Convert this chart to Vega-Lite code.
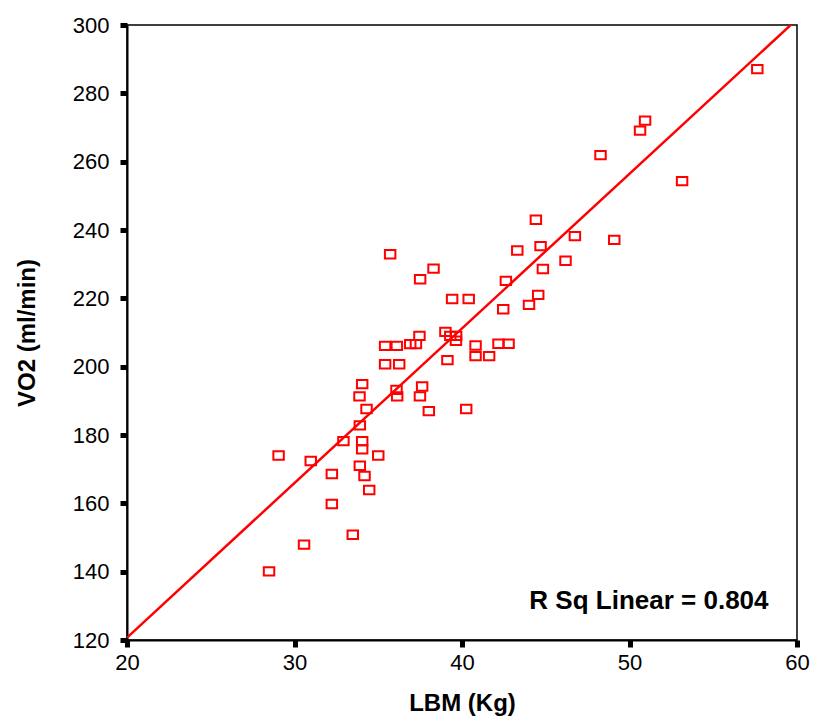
{
  "$schema": "https://vega.github.io/schema/vega-lite/v6.json",
  "width": 670,
  "height": 615,
  "autosize": "none",
  "padding": {"left": 127, "top": 25, "right": 17, "bottom": 80},
  "background": "white",
  "config": {
    "view": {"stroke": "#000000", "strokeWidth": 1.5},
    "font": "Liberation Sans",
    "axis": {
      "domainColor": "#000000",
      "domainWidth": 2,
      "tickColor": "#000000",
      "tickWidth": 5,
      "tickSize": 7,
      "labelFont": "Liberation Sans",
      "labelFontSize": 22,
      "labelColor": "#000000",
      "labelFlush": false,
      "labelOverlap": false,
      "titleFont": "Liberation Sans",
      "titleFontSize": 24,
      "titleFontWeight": "bold",
      "titleColor": "#000000",
      "grid": false
    }
  },
  "datasets": {
    "points": [
      {"LBM": 57.63, "VO2": 287.1},
      {"LBM": 50.93, "VO2": 272.0},
      {"LBM": 50.63, "VO2": 269.1},
      {"LBM": 48.27, "VO2": 261.9},
      {"LBM": 53.14, "VO2": 254.3},
      {"LBM": 44.41, "VO2": 243.0},
      {"LBM": 46.74, "VO2": 238.2},
      {"LBM": 49.09, "VO2": 237.1},
      {"LBM": 43.3, "VO2": 234.0},
      {"LBM": 44.69, "VO2": 235.3},
      {"LBM": 44.83, "VO2": 228.6},
      {"LBM": 46.18, "VO2": 231.0},
      {"LBM": 42.62, "VO2": 225.1},
      {"LBM": 44.55, "VO2": 221.0},
      {"LBM": 44.0, "VO2": 218.1},
      {"LBM": 42.46, "VO2": 216.8},
      {"LBM": 39.41, "VO2": 219.8},
      {"LBM": 40.4, "VO2": 219.8},
      {"LBM": 35.71, "VO2": 232.9},
      {"LBM": 38.3, "VO2": 228.7},
      {"LBM": 37.5, "VO2": 225.6},
      {"LBM": 37.46, "VO2": 209.0},
      {"LBM": 39.01, "VO2": 210.2},
      {"LBM": 39.3, "VO2": 209.0},
      {"LBM": 39.65, "VO2": 209.0},
      {"LBM": 39.64, "VO2": 207.6},
      {"LBM": 35.41, "VO2": 206.1},
      {"LBM": 36.11, "VO2": 206.1},
      {"LBM": 36.91, "VO2": 206.6},
      {"LBM": 37.25, "VO2": 206.6},
      {"LBM": 40.81, "VO2": 206.2},
      {"LBM": 40.81, "VO2": 203.1},
      {"LBM": 41.62, "VO2": 203.1},
      {"LBM": 42.18, "VO2": 206.7},
      {"LBM": 42.78, "VO2": 206.7},
      {"LBM": 39.13, "VO2": 201.9},
      {"LBM": 35.41, "VO2": 200.7},
      {"LBM": 36.25, "VO2": 200.7},
      {"LBM": 34.04, "VO2": 194.9},
      {"LBM": 33.88, "VO2": 191.3},
      {"LBM": 34.3, "VO2": 187.6},
      {"LBM": 33.9, "VO2": 182.8},
      {"LBM": 32.92, "VO2": 178.2},
      {"LBM": 34.04, "VO2": 178.2},
      {"LBM": 34.04, "VO2": 175.8},
      {"LBM": 35.0, "VO2": 174.0},
      {"LBM": 29.05, "VO2": 174.0},
      {"LBM": 30.97, "VO2": 172.4},
      {"LBM": 33.9, "VO2": 171.0},
      {"LBM": 34.18, "VO2": 168.0},
      {"LBM": 32.23, "VO2": 168.6},
      {"LBM": 34.46, "VO2": 163.9},
      {"LBM": 32.23, "VO2": 159.8},
      {"LBM": 30.57, "VO2": 147.9},
      {"LBM": 33.48, "VO2": 150.8},
      {"LBM": 28.48, "VO2": 140.1},
      {"LBM": 36.09, "VO2": 193.2},
      {"LBM": 36.13, "VO2": 191.3},
      {"LBM": 37.62, "VO2": 194.2},
      {"LBM": 37.49, "VO2": 191.3},
      {"LBM": 38.02, "VO2": 187.0},
      {"LBM": 40.25, "VO2": 187.6}
    ],
    "fit": [
      {"LBM": 20, "VO2": 120.7},
      {"LBM": 60, "VO2": 301.7}
    ],
    "note": [
      {"LBM": 58.3, "VO2": 131.5, "label": "R Sq Linear = 0.804"}
    ]
  },
  "encoding": {
    "x": {
      "field": "LBM", "type": "quantitative",
      "scale": {"domain": [20, 60], "nice": false, "zero": false},
      "axis": {"title": "LBM (Kg)", "values": [20, 30, 40, 50, 60], "labelPadding": 5, "titlePadding": 18}
    },
    "y": {
      "field": "VO2", "type": "quantitative",
      "scale": {"domain": [120, 300], "nice": false, "zero": false},
      "axis": {"title": "VO2 (ml/min)", "values": [120, 140, 160, 180, 200, 220, 240, 260, 280, 300], "labelPadding": 11, "titlePadding": 33}
    }
  },
  "layer": [
    {
      "data": {"name": "fit"},
      "mark": {"type": "line", "color": "#ff0000", "strokeWidth": 2.5, "clip": true}
    },
    {
      "data": {"name": "points"},
      "mark": {"type": "point", "shape": "M-1.25,-1L1.25,-1L1.25,1L-1.25,1Z", "size": 70, "filled": false, "color": "#ff0000", "strokeWidth": 2, "opacity": 1}
    },
    {
      "data": {"name": "note"},
      "mark": {"type": "text", "align": "right", "baseline": "middle", "fontSize": 26, "fontWeight": "bold", "font": "Liberation Sans", "color": "#000000"},
      "encoding": {"text": {"field": "label"}}
    }
  ]
}
